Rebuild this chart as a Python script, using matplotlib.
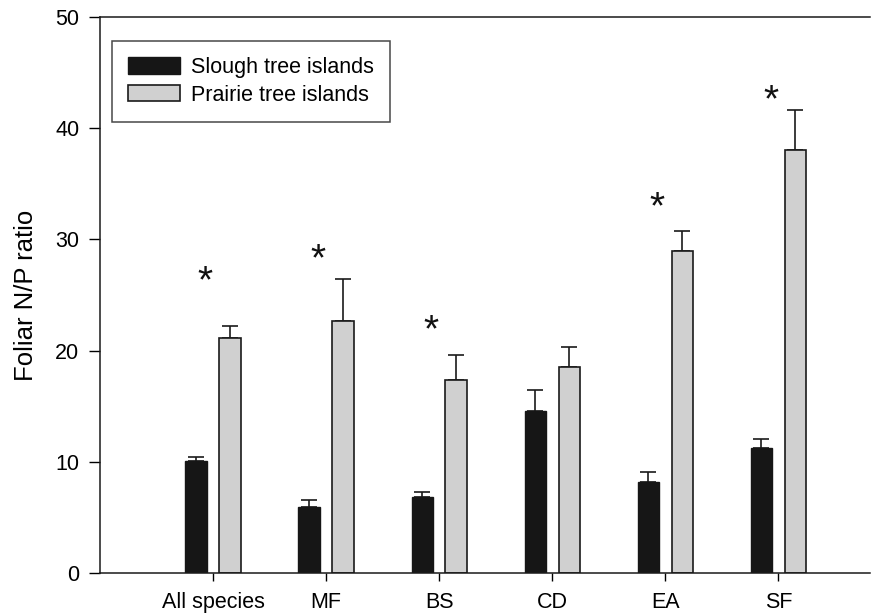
import numpy as np
import matplotlib
matplotlib.use("Agg")
import matplotlib.pyplot as plt

plt.rcParams['font.family'] = ['Liberation Sans', 'DejaVu Sans']

groups = ["All species", "MF", "BS", "CD", "EA", "SF"]
slough_mean = [10.1, 5.9, 6.8, 14.6, 8.2, 11.2]
slough_se = [0.35, 0.65, 0.45, 1.85, 0.85, 0.85]
prairie_mean = [21.1, 22.7, 17.4, 18.5, 29.0, 38.0]
prairie_se = [1.15, 3.7, 2.2, 1.8, 1.8, 3.6]
star_height = [26.1, 28.1, 21.7, None, 32.8, 42.4]

fig = plt.figure(figsize=(8.82, 6.16), dpi=100)
ax = fig.add_axes([0.1134, 0.0698, 0.8730, 0.9026])

x = np.arange(len(groups))
w = 0.19
off = 0.15

ax.bar(x - off, slough_mean, w, color="#161616", edgecolor="#161616", linewidth=1,
       label="Slough tree islands", zorder=2)
ax.bar(x + off, prairie_mean, w, color="#d0d0d0", edgecolor="#1a1a1a", linewidth=1.2,
       label="Prairie tree islands", zorder=2)
ax.errorbar(x - off, slough_mean, yerr=[np.zeros(len(groups)), slough_se], fmt="none",
            ecolor="#1a1a1a", elinewidth=1.2, capsize=6, capthick=1.2, zorder=1)
ax.errorbar(x + off, prairie_mean, yerr=[np.zeros(len(groups)), prairie_se], fmt="none",
            ecolor="#1a1a1a", elinewidth=1.2, capsize=6, capthick=1.2, zorder=1)

for xi, h in zip(x, star_height):
    if h is not None:
        ax.text(xi - 0.07, h, "*", ha="center", va="center", fontsize=28, color="#111111")

ax.set_xlim(-1.0, 5.81)
ax.set_ylim(0, 50)
ax.set_xticks(x)
ax.set_xticklabels(groups, fontsize=15.5)
ax.set_yticks(np.arange(0, 51, 10))
ax.tick_params(axis="y", labelsize=15.5, length=8, width=1, direction="out", pad=7)
ax.tick_params(axis="x", length=6, width=1, direction="out", pad=8)
ax.set_ylabel("Foliar N/P ratio", fontsize=18.5, labelpad=12)
ax.spines["right"].set_visible(False)
for s in ["left", "bottom", "top"]:
    ax.spines[s].set_linewidth(1.1)
    ax.spines[s].set_color("#1a1a1a")

leg = ax.legend(loc="upper left", bbox_to_anchor=(0.016, 0.957), fontsize=15.5,
                frameon=True, fancybox=False, edgecolor="#1a1a1a", borderpad=0.75,
                handlelength=2.4, handleheight=0.8, labelspacing=0.3, handletextpad=0.5,
                borderaxespad=0)
leg.get_frame().set_linewidth(1.1)

fig.savefig("out.png", dpi=100)
